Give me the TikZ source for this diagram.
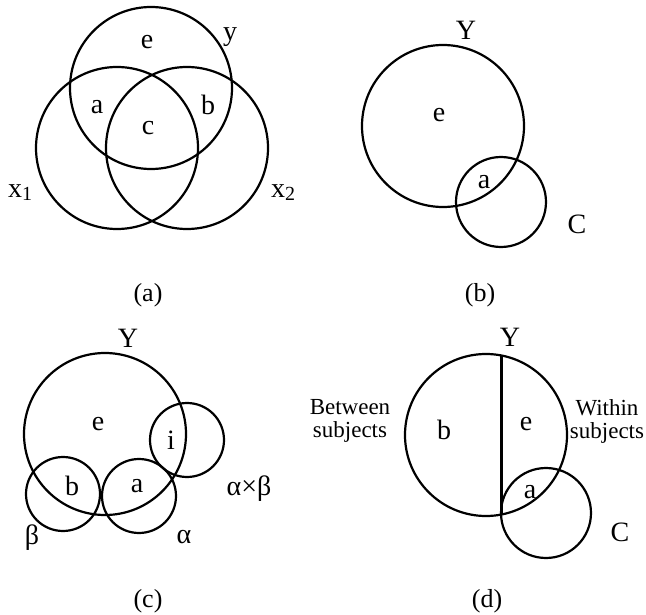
\documentclass[tikz,border=0pt]{standalone}
\usepackage{fontspec}
\setmainfont{Liberation Serif}
\begin{document}
\begin{tikzpicture}[x=1pt,y=-1pt,
  ring/.style={draw, circle, line width=2.2pt, inner sep=0pt, outer sep=0pt},
  big/.style={ring, minimum size=162pt},
  small/.style={ring, minimum size=74pt},
  mid/.style={ring, minimum size=90pt},
  lab/.style={font=\fontsize{28}{28}\selectfont, inner sep=0pt},
  captxt/.style={font=\fontsize{26}{26}\selectfont, inner sep=0pt},
  side/.style={font=\fontsize{23}{23}\selectfont, inner sep=0pt, align=center}]
\useasboundingbox (0,0) rectangle (646,615);
% (a)
\node[big] (ya) at (151,88) {};
\node[big] (x1) at (117,148) {};
\node[big] (x2) at (187,148) {};
\node[lab] (ea) at (147,42) {e};
\node[lab] (yl) at (230,37) {y};
\node[lab] (aa) at (97,107) {a};
\node[lab] (ba) at (208,105) {b};
\node[lab] (ca) at (148,128) {c};
\node[lab, anchor=base west] (x1l) at (8,198) {x\raisebox{-2pt}{\fontsize{20}{20}\selectfont 1}};
\node[lab, anchor=base west] (x2l) at (271,198) {x\raisebox{-2pt}{\fontsize{20}{20}\selectfont 2}};
\node[captxt] (capa) at (148,295) {(a)};
% (b)
\node[big] (Yb) at (443,126) {};
\node[mid] (Cb) at (501,202) {};
\node[lab] (Ybl) at (466,30) {Y};
\node[lab] (eb) at (439,115) {e};
\node[lab] (ab) at (484,182) {a};
\node[lab] (Cbl) at (577,224) {C};
\node[captxt] (capb) at (480,295) {(b)};
% (c)
\node[big] (Yc) at (105,434) {};
\node[small] (ic) at (187,440) {};
\node[small] (bc) at (63,494) {};
\node[small] (ac) at (139,496) {};
\node[lab] (Ycl) at (128,338) {Y};
\node[lab] (ec) at (98,424) {e};
\node[lab] (il) at (171,440) {i};
\node[lab] (bl) at (72,486) {b};
\node[lab] (al) at (137,486) {a};
\node[lab] (abl) at (249,489) {α×β};
\node[lab] (betal) at (32,538) {β};
\node[lab] (alphal) at (184,537) {α};
\node[captxt] (capc) at (148,601) {(c)};
% (d)
\node[big] (Yd) at (486,435) {};
\node[mid] (Cd) at (546,513) {};
\draw[line width=2.2pt] (Yd.79.4) -- (Yd.-79.4);
\node[lab] (Ydl) at (510,337) {Y};
\node[lab] (bd) at (444,430) {b};
\node[lab] (ed) at (526,424) {e};
\node[lab] (ad) at (530,492) {a};
\node[lab] (Cdl) at (620,532) {C};
\node[side] (betw) at (350,421) {Between\\subjects};
\node[side] (with) at (607,421) {Within\\subjects};
\node[captxt] (capd) at (487,601) {(d)};
\end{tikzpicture}
\end{document}
